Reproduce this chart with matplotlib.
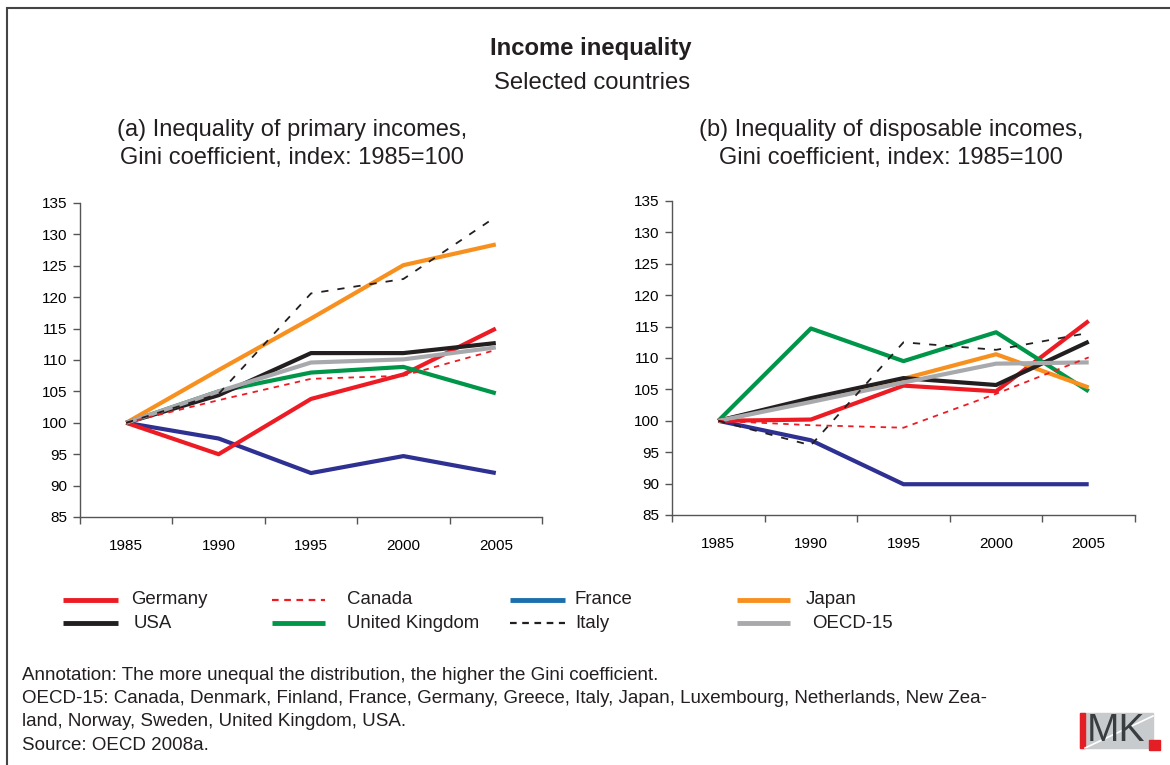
import matplotlib
matplotlib.use("Agg")
import matplotlib.pyplot as plt
from matplotlib.lines import Line2D
from matplotlib.patches import Rectangle

plt.rcParams['font.family'] = ['Liberation Sans', 'DejaVu Sans']

years = ['1985', '1990', '1995', '2000', '2005']
countries = ['Germany', 'Canada', 'France', 'Japan', 'USA', 'United Kingdom', 'Italy', 'OECD-15']

# (a) primary incomes, Gini index 1985=100
primary = {
    'Germany':        [100, 95.0, 103.8, 107.7, 115.0],
    'Canada':         [100, 103.6, 107.0, 107.5, 111.6],
    'France':         [100, 97.5, 92.0, 94.7, 92.0],
    'Japan':          [100, 108.4, 116.6, 125.1, 128.4],
    'USA':            [100, 104.4, 111.1, 111.1, 112.7],
    'United Kingdom': [100, 105.0, 108.0, 108.9, 104.7],
    'Italy':          [100, 104.6, 120.6, 122.9, 132.8],
    'OECD-15':        [100, 105.0, 109.6, 110.1, 112.0],
}

# (b) disposable incomes, Gini index 1985=100
disposable = {
    'Germany':        [100, 100.2, 105.6, 104.7, 115.9],
    'Canada':         [100, 99.3, 98.9, 104.3, 110.1],
    'France':         [100, 96.9, 89.9, 89.9, 89.9],
    'Japan':          [100, 103.3, 106.7, 110.6, 105.3],
    'USA':            [100, 103.6, 106.8, 105.7, 112.6],
    'United Kingdom': [100, 114.7, 109.5, 114.1, 104.7],
    'Italy':          [100, 96.1, 112.5, 111.3, 114.0],
    'OECD-15':        [100, 103.0, 106.1, 109.1, 109.3],
}

# line styles: colour, width, dash
styles = {
    'Germany':        ('#ed1c24', 3.0, '-'),
    'Canada':         ('#ed1c24', 1.3, (0, (3, 3))),
    'France':         ('#2e3192', 3.0, '-'),
    'Japan':          ('#f7901e', 3.0, '-'),
    'USA':            ('#231f20', 3.0, '-'),
    'United Kingdom': ('#00964a', 3.0, '-'),
    'Italy':          ('#231f20', 1.3, (0, (4, 5))),
    'OECD-15':        ('#a7a9ac', 3.0, '-'),
}
draw_order = ['France', 'Germany', 'Canada', 'United Kingdom', 'Japan', 'USA', 'OECD-15', 'Italy']
legend_colors = {'France': '#1b6fae'}

W, H = 1170, 765
fig = plt.figure(figsize=(W / 100, H / 100), dpi=100)


def fx(px):
    return px / W


def fy(py):
    return 1 - py / H


# outer frame
fig.patches.append(Rectangle((fx(7), fy(1000)), fx(1300), fy(8) - fy(1000),
                             transform=fig.transFigure, fill=False,
                             edgecolor='#444444', linewidth=1.5))

fig.text(fx(591), fy(48), 'Income inequality', ha='center', va='center',
         fontsize=17.2, fontweight='bold', color='#231f20')
fig.text(fx(592), fy(83), 'Selected countries', ha='center', va='center',
         fontsize=17.2, color='#231f20')


def panel(rect, data, title, title_x):
    ax = fig.add_axes(rect)
    x = list(range(len(years)))
    for c in draw_order:
        col, lw, ls = styles[c]
        ax.plot(x, data[c], color=col, linewidth=lw, linestyle=ls,
                solid_capstyle='butt', zorder=3 if lw > 2 else 4)
    ax.set_xlim(-0.5, len(years) - 0.5)
    ax.set_ylim(85, 135)
    ax.set_yticks(range(85, 136, 5))
    ax.set_xticks([i - 0.5 for i in range(len(years) + 1)])
    ax.set_xticklabels([])
    ax.set_xticks(x, minor=True)
    ax.set_xticklabels(years, minor=True)
    ax.tick_params(axis='x', which='major', length=5, width=1, color='#555555')
    ax.tick_params(axis='x', which='minor', length=0, pad=16, labelsize=11)
    ax.tick_params(axis='y', length=5, width=1, color='#555555', labelsize=11, pad=4)
    for s in ['top', 'right']:
        ax.spines[s].set_visible(False)
    for s in ['left', 'bottom']:
        ax.spines[s].set_color('#555555')
        ax.spines[s].set_linewidth(1)
    fig.text(fx(title_x), fy(144), title, ha='center', va='center',
             fontsize=17, color='#231f20', linespacing=1.4)
    return ax


panel([fx(80), fy(517), fx(542) - fx(80), fy(203) - fy(517)], primary,
      '(a) Inequality of primary incomes,\nGini coefficient, index: 1985=100', 292)
panel([fx(672), fy(515), fx(1135) - fx(672), fy(201) - fy(515)], disposable,
      '(b) Inequality of disposable incomes,\nGini coefficient, index: 1985=100', 891)

# legend, drawn by hand in 4 columns x 2 rows
legend_rows = [['Germany', 'Canada', 'France', 'Japan'],
               ['USA', 'United Kingdom', 'Italy', 'OECD-15']]
handle_x = [(63, 118), (272, 325), (510, 565), (737, 790)]
text_x = [[131, 347, 575, 806], [134, 347, 575, 812]]
row_y = [600, 623]
for r, row in enumerate(legend_rows):
    for c, name in enumerate(row):
        col, lw, ls = styles[name]
        col = legend_colors.get(name, col)
        if ls != '-':
            ls = (0, (3, 2.5))
            lw = 1.6
        else:
            lw = 3.5
        x0, x1 = handle_x[c]
        fig.add_artist(Line2D([fx(x0), fx(x1)], [fy(row_y[r]), fy(row_y[r])],
                              transform=fig.transFigure, color=col,
                              linewidth=lw, linestyle=ls, solid_capstyle='butt'))
        fig.text(fx(text_x[r][c]), fy(row_y[r]), name, ha='left', va='center',
                 fontsize=13.4, color='#231f20')

notes = [
    'Annotation: The more unequal the distribution, the higher the Gini coefficient.',
    'OECD-15: Canada, Denmark, Finland, France, Germany, Greece, Italy, Japan, Luxembourg, Netherlands, New Zea-',
    'land, Norway, Sweden, United Kingdom, USA.',
    'Source: OECD 2008a.',
]
for i, line in enumerate(notes):
    fig.text(fx(22), fy(675 + i * 23.5), line, ha='left', va='center',
             fontsize=13.5, color='#231f20')

# IMK logo
fig.patches.append(Rectangle((fx(1080), fy(748)), fx(73), fy(713) - fy(748),
                             transform=fig.transFigure, color='#c8cbcd'))
fig.add_artist(Line2D([fx(1085), fx(1153)], [fy(748), fy(716)],
                      transform=fig.transFigure, color='white', linewidth=1.2))
fig.patches.append(Rectangle((fx(1080), fy(748)), fx(5), fy(713) - fy(748),
                             transform=fig.transFigure, color='#e31e24'))
fig.text(fx(1087), fy(731), 'MK', ha='left', va='center', fontsize=28,
         color='#3a3d40')
fig.patches.append(Rectangle((fx(1149), fy(750)), fx(11), fy(740) - fy(750),
                             transform=fig.transFigure, color='#e31e24'))

fig.savefig('out.png', dpi=100)
